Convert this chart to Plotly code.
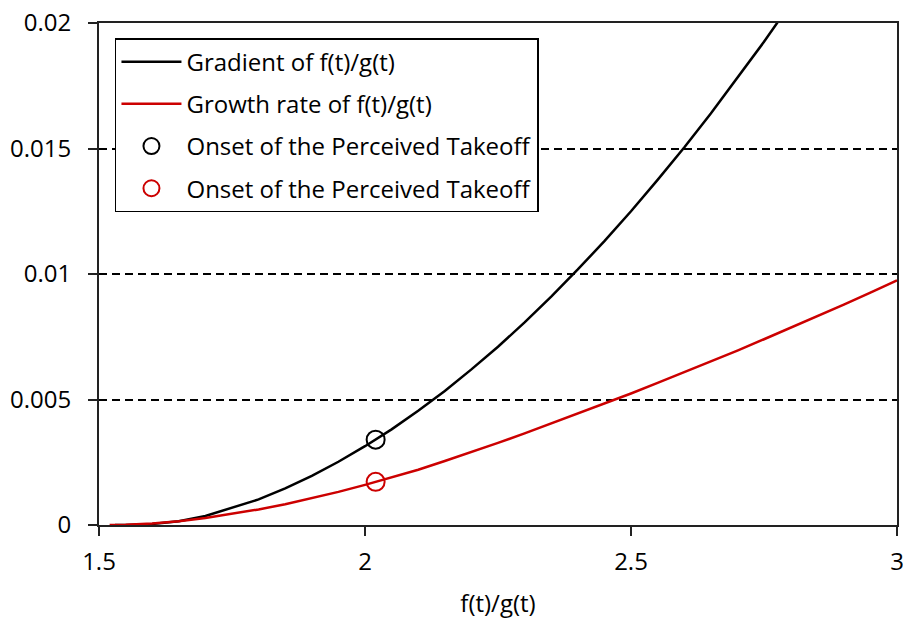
import plotly.graph_objects as go

# Data
grad_x = [1.53, 1.55, 1.60, 1.65, 1.70, 1.75, 1.80, 1.85, 1.90, 1.95, 2.00, 2.05, 2.10, 2.15, 2.20, 2.25,
          2.30, 2.35, 2.40, 2.45, 2.50, 2.55, 2.60, 2.65, 2.70, 2.75, 2.80]
grad_y = [0.0, 0.0, 0.00004, 0.00015, 0.00036, 0.00068, 0.00102, 0.00146, 0.00196, 0.00252, 0.00314, 0.00381,
          0.00455, 0.00534, 0.0062, 0.0071, 0.00807, 0.0091, 0.01018, 0.01131, 0.0125, 0.01375, 0.01504,
          0.01639, 0.0178, 0.01925, 0.02077]

rate_x = [1.52, 1.55, 1.60, 1.65, 1.70, 1.75, 1.80, 1.85, 1.90, 1.95, 2.00, 2.05, 2.10, 2.15, 2.20, 2.25,
          2.30, 2.35, 2.40, 2.45, 2.50, 2.55, 2.60, 2.65, 2.70, 2.75, 2.80, 2.85, 2.90, 2.95, 3.00]
rate_y = [0.0, 0.00001, 0.00006, 0.00015, 0.00028, 0.00044, 0.00062, 0.00083, 0.00106, 0.00132, 0.0016, 0.0019,
          0.0022, 0.00255, 0.0029, 0.00327, 0.00365, 0.00404, 0.00443, 0.00483, 0.00524, 0.00566, 0.00608,
          0.00651, 0.00695, 0.0074, 0.00785, 0.00831, 0.00878, 0.00926, 0.00975]

onset_x = [2.02]
onset_grad_y = [0.0034]
onset_rate_y = [0.00172]

x_ticks = [1.5, 2, 2.5, 3]
x_tick_labels = ["1.5", "2", "2.5", "3"]
y_ticks = [0, 0.005, 0.01, 0.015, 0.02]
y_tick_labels = ["0", "0.005", "0.01", "0.015", "0.02"]

BLACK = "#000000"
RED = "#CC0000"
FONT = "Open Sans"
FS = 24

fig = go.Figure()
fig.add_trace(go.Scatter(x=grad_x, y=grad_y, mode="lines", name="Gradient of f(t)/g(t)",
                         line=dict(color=BLACK, width=2.5), legendgroup="a"))
fig.add_trace(go.Scatter(x=rate_x, y=rate_y, mode="lines", name="Growth rate of f(t)/g(t)",
                         line=dict(color=RED, width=2.5), legendgroup="b"))
fig.add_trace(go.Scatter(x=onset_x, y=onset_grad_y, mode="markers", name="Onset of the Perceived Takeoff",
                         marker=dict(symbol="circle-open", size=18, color=BLACK, line=dict(width=2, color=BLACK)),
                         legendgroup="c"))
fig.add_trace(go.Scatter(x=onset_x, y=onset_rate_y, mode="markers", name="Onset of the Perceived Takeoff",
                         marker=dict(symbol="circle-open", size=18, color=RED, line=dict(width=2, color=RED)),
                         legendgroup="d"))

axis_common = dict(
    showline=True, linecolor="#222222", linewidth=2, mirror=True,
    ticks="outside", ticklen=9, tickwidth=2, tickcolor="#222222",
    tickfont=dict(family=FONT, size=FS, color="#000000"),
    zeroline=False, automargin=False, ticklabeloverflow="allow",
)

fig.update_xaxes(range=[1.5, 3], tickvals=x_ticks, ticktext=x_tick_labels, showgrid=False,
                 title=dict(text="f(t)/g(t)", font=dict(family=FONT, size=FS, color="#000000"), standoff=19),
                 ticklabelstandoff=5, **axis_common)
fig.update_yaxes(range=[0, 0.02], tickvals=y_ticks, ticktext=y_tick_labels,
                 showgrid=True, gridcolor="#000000", gridwidth=1.5, griddash="8px,5px",
                 ticklabelstandoff=12, **axis_common)

fig.update_layout(
    width=903, height=628,
    margin=dict(l=99, r=6, t=23, b=103),
    paper_bgcolor="white", plot_bgcolor="white",
    font=dict(family=FONT, size=FS, color="#000000"),
    showlegend=True,
    legend=dict(x=0.02, y=0.97, xanchor="left", yanchor="top",
                bordercolor="#000000", borderwidth=1.5, bgcolor="white",
                font=dict(family=FONT, size=FS, color="#000000"),
                tracegroupgap=8, traceorder="grouped", itemwidth=60),
)

# Remove the browser's default 8px body margin so the figure fills the window.
fig.write_html("out.html", config={"displayModeBar": False},
               post_script="document.body.style.margin='0';document.body.style.overflow='hidden';")
